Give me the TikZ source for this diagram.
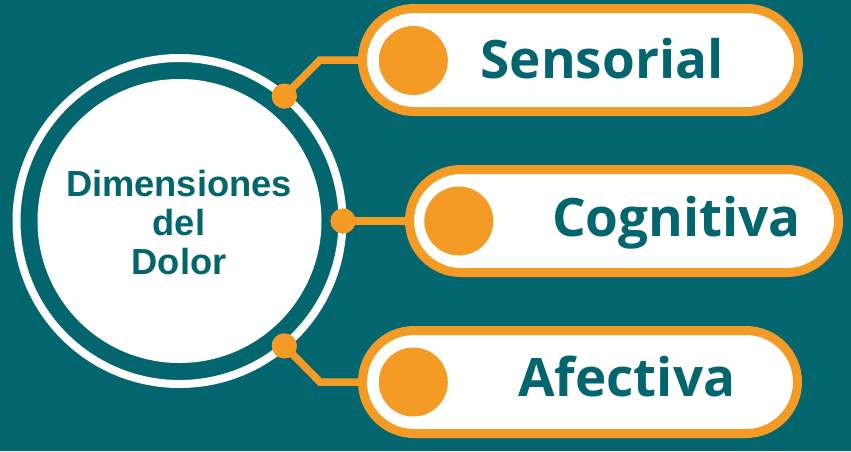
\documentclass[tikz,border=0pt]{standalone}
\usepackage{fontspec}
\setmainfont{Open Sans}
\newfontfamily\arialfont{Liberation Sans}
\definecolor{teal}{HTML}{03666F}
\definecolor{orng}{HTML}{F49B26}
\begin{document}
\begin{tikzpicture}[x=1pt,y=-1pt,
  pill/.style={draw=orng, fill=white, line width=9pt, rounded corners=51.5pt, minimum height=103pt, inner sep=0pt},
  bigdot/.style={circle, fill=orng, minimum size=69pt, inner sep=0pt},
  smalldot/.style={circle, fill=orng, minimum size=25pt, inner sep=0pt},
  conn/.style={draw=orng, line width=7.5pt},
  label/.style={text=teal, font=\fontsize{53}{60}\selectfont\bfseries, anchor=base, inner sep=0pt}
]
\fill[teal] (0,0) rectangle (851,451);
\useasboundingbox (0,0) rectangle (851,451);
% central circle
\draw[white, line width=8pt] (179.5,221) circle[radius=163];
\node[circle, fill=white, minimum size=284pt, inner sep=0pt] (hub) at (179.5,221) {};
\node[text=teal, align=center, font=\arialfont\fontsize{36.3}{39}\selectfont\bfseries, inner sep=0pt] (title) at (179,223) {Dimensiones\\del\\Dolor};
% pills
\node[pill, minimum width=436pt] (p1) at (580.5,60) {};
\node[pill, minimum width=429pt] (p2) at (624,221) {};
\node[pill, minimum width=435pt] (p3) at (580,382) {};
\node[bigdot] (b1) at (413.3,60.5) {};
\node[bigdot] (b2) at (458.8,221) {};
\node[bigdot] (b3) at (413.3,382) {};
\node[label] (t1) at (602,78.3) {Sensorial};
\node[label] (t2) at (676.5,236.7) {Cognitiva};
\node[label] (t3) at (626.7,396.7) {Afectiva};
% connectors
\coordinate (k1) at (320,60);
\coordinate (k3) at (320,382);
\node[smalldot] (d1) at (284.3,96.1) {};
\node[smalldot] (d2) at (343,221) {};
\node[smalldot] (d3) at (284.3,345.9) {};
\draw[conn] (d1.center) -- (k1) -- (p1.west);
\draw[conn] (d2.center) -- (p2.west);
\draw[conn] (d3.center) -- (k3) -- (p3.west);
\node[smalldot] at (d1) {};
\node[smalldot] at (d2) {};
\node[smalldot] at (d3) {};
\end{tikzpicture}
\end{document}
